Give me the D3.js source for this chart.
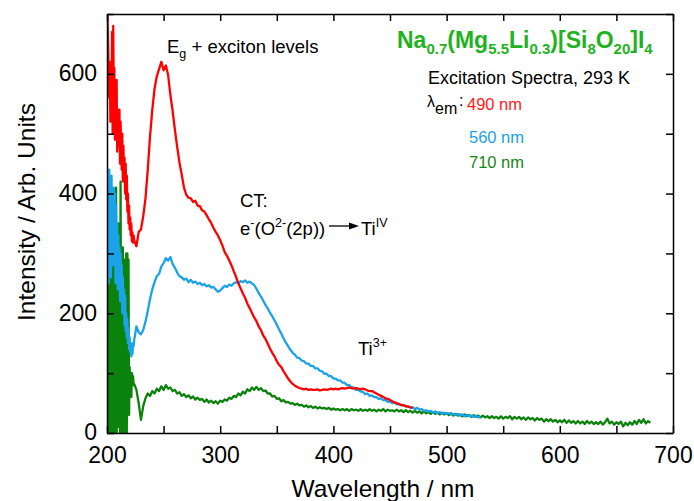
<!DOCTYPE html>
<html>
<head>
<meta charset="utf-8">
<script src="https://cdn.jsdelivr.net/npm/d3@7"></script>
<style>
  body { margin: 0; background: #fff; }
  svg { display: block; }
  text { font-family: "Liberation Sans", Arial, sans-serif; fill: #000; }
</style>
</head>
<body>
<svg id="chart" width="694" height="501"></svg>
<script>
// Excitation spectra of Na0.7(Mg5.5Li0.3)[Si8O20]I4 at 293 K for three emission wavelengths.
// Each series: a dense start (0.5 nm steps, 200-224 nm) and a tail (2 nm steps from 226 nm).
const HEAD_START = 200, HEAD_STEP = 0.5;
const TAIL_START = 226, TAIL_STEP = 2;

// lambda_em = 490 nm
const red490Head = [730,690,650,600,560,620,520,600,540,670,500,680,560,610,490,560,520,590,470,540,500,480,540,450,520,470,440,500,420,480,430,460,400,450,390,430,370,400,350,380,340,360,330,350,320,335,318,330,322];
const red490Tail = [
  312,336,340,362,392,440,495,540,575,596,
  608,620,606,614,598,565,538,506,478,452,
  432,410,398,393,392,386,388,380,379,372,
  370,364,357,351,343,336,330,322,313,302,
  296,288,280,270,261,250,242,233,226,216,
  209,201,193,187,178,172,163,157,149,141,
  134,128,120,114,110,103,97,91,86,82,
  79,77,75,74,73,74,72,73,72,72,
  73,71,72,73,72,73,74,73,74,73,
  74,75,74,75,76,75,74,75,74,73,
  74,73,71,70,70,68,66,64,62,60,
  58,57,55,53,51,50,48,47,46,45,
  44,43,42];

// lambda_em = 560 nm
const blue560Head = [420,300,380,250,440,320,400,260,430,340,390,280,410,300,400,250,380,290,350,240,330,260,310,220,300,240,280,200,260,210,240,180,230,170,200,160,190,150,175,140,160,135,150,128,140,132,150,145,155];
const blue560Tail = [
  178,168,165,172,186,204,224,240,252,262,
  266,278,284,292,288,294,282,276,268,262,
  260,256,258,252,256,251,253,249,251,247,
  249,245,247,243,244,240,236,238,242,246,
  244,248,246,250,252,250,254,252,255,251,
  253,250,247,241,234,228,221,214,208,201,
  195,188,181,173,166,158,151,145,139,134,
  131,126,125,121,120,116,116,112,112,108,
  108,104,103,99,99,95,95,91,91,88,
  88,84,84,80,80,76,76,72,72,69,
  69,65,66,62,63,60,60,57,58,55,
  55,52,53,50,51,48,49,46,47,44,
  45,42,43,40,42,39,40,37,38,36,
  37,34,36,33,35,32,34,32,33,31,
  32,30,32,29,31,28,30,28,29,27,
  29,26,27];

// lambda_em = 710 nm
const green710Head = [20,380,-30,300,420,-20,250,60,400,-40,330,100,360,-10,280,30,410,-30,230,90,350,10,300,-20,420,40,260,-30,310,70,200,-10,290,50,300,0,300,60,290,30,110,80,100,60,100,85,95,80,82];
const green710Tail = [
  72,50,22,45,58,66,62,70,66,74,
  70,78,72,80,74,76,70,72,66,68,
  62,65,60,63,58,61,56,59,55,57,
  52,56,51,54,50,53,49,54,52,56,
  54,59,57,62,60,66,63,69,66,73,
  70,76,72,77,72,75,70,71,66,66,
  61,62,57,58,53,55,51,52,49,50,
  47,49,46,47,44,46,43,45,42,44,
  41,43,41,42,40,42,39,41,39,40,
  38,40,38,40,37,40,38,39,37,40,
  37,39,37,40,37,39,36,39,37,40,
  36,39,37,38,36,39,36,38,35,38,
  35,37,34,37,34,36,33,36,33,35,
  32,35,32,34,31,34,31,33,30,33,
  29,32,29,31,28,31,28,30,27,30,
  27,29,26,29,26,28,25,28,25,27,
  24,28,24,27,25,28,23,27,24,27,
  23,26,22,26,23,25,21,25,22,24,
  19,23,20,23,19,22,18,21,18,22,
  17,21,17,20,16,20,16,19,15,20,
  16,19,15,18,15,19,14,18,24,16,
  19,14,18,15,19,11,17,13,18,14,
  20,15,22,17,23,16,20,17];

const xTicks = [200, 300, 400, 500, 600, 700];
const xMinorTicks = [200, 250, 300, 350, 400, 450, 500, 550, 600, 650, 700];
const yTicks = [0, 200, 400, 600];
const yMinorTicks = [0, 100, 200, 300, 400, 500, 600, 700];

const seriesDefs = [
  { name: "490 nm", head: red490Head, tail: red490Tail, color: "#ff0000", label: "#ff1a1a" },
  { name: "560 nm", head: blue560Head, tail: blue560Tail, color: "#1aa3e8", label: "#1aa3e8" },
  { name: "710 nm", head: green710Head, tail: green710Tail, color: "#0b820b", label: "#178717" }
];

function toPoints(def) {
  const pts = def.head.map((v, i) => [HEAD_START + i * HEAD_STEP, v]);
  def.tail.forEach((v, i) => pts.push([TAIL_START + i * TAIL_STEP, v]));
  return pts;
}

const svg = d3.select("#chart");
const plotLeft = 107, plotRight = 673, plotTop = 14, plotBottom = 433;

const x = d3.scaleLinear().domain([200, 700]).range([plotLeft, plotRight]);
const y = d3.scaleLinear().domain([0, 700]).range([plotBottom, plotTop]);

svg.append("defs").append("clipPath").attr("id", "plotClip")
  .append("rect").attr("x", plotLeft).attr("y", plotTop)
  .attr("width", plotRight - plotLeft).attr("height", plotBottom - plotTop);

// spectra (green drawn first, red last so red stays on top)
const line = d3.line().x(d => x(d[0])).y(d => y(d[1]));
const plot = svg.append("g").attr("clip-path", "url(#plotClip)");
[seriesDefs[2], seriesDefs[1], seriesDefs[0]].forEach(def => {
  plot.append("path")
    .datum(toPoints(def))
    .attr("fill", "none")
    .attr("stroke", def.color)
    .attr("stroke-width", 2.3)
    .attr("stroke-linejoin", "round")
    .attr("d", line);
});

// axes with inward ticks on all four sides
const tickLen = 7;
const fmtX = d => (xTicks.includes(d) ? d : "");
const fmtY = d => (yTicks.includes(d) ? d : "");

const gx = svg.append("g").attr("transform", `translate(0,${plotBottom})`)
  .call(d3.axisBottom(x).tickValues(xMinorTicks).tickSizeInner(-tickLen).tickSizeOuter(0).tickPadding(14).tickFormat(fmtX));
const gxt = svg.append("g").attr("transform", `translate(0,${plotTop})`)
  .call(d3.axisTop(x).tickValues(xMinorTicks).tickSizeInner(-tickLen).tickSizeOuter(0).tickFormat(""));
const gy = svg.append("g").attr("transform", `translate(${plotLeft},0)`)
  .call(d3.axisLeft(y).tickValues(yMinorTicks).tickSizeInner(-tickLen).tickSizeOuter(0).tickPadding(10).tickFormat(fmtY));
const gyr = svg.append("g").attr("transform", `translate(${plotRight},0)`)
  .call(d3.axisRight(y).tickValues(yMinorTicks).tickSizeInner(-tickLen).tickSizeOuter(0).tickFormat(""));

[gx, gxt, gy, gyr].forEach(g => {
  g.selectAll("path.domain").attr("stroke", "#000").attr("stroke-width", 1.5);
  g.selectAll(".tick line").attr("stroke", "#000").attr("stroke-width", 1.5);
  g.selectAll(".tick text").attr("fill", "#000")
    .style("font-family", '"Liberation Sans", Arial, sans-serif').style("font-size", "23px");
});
gy.selectAll(".tick text").attr("dy", "0.3em");

// axis titles
svg.append("text")
  .attr("x", (plotLeft + plotRight) / 2 - 7).attr("y", 497)
  .attr("text-anchor", "middle").style("font-size", "24.5px")
  .text("Wavelength / nm");
svg.append("text")
  .attr("transform", "translate(35,212) rotate(-90)")
  .attr("text-anchor", "middle").style("font-size", "24.5px")
  .text("Intensity / Arb. Units");

// text with sub/superscripts: parts = [[text, "n"|"sub"|"sup"], ...]
function richText(xPos, yPos, parts, size, subSize, color, weight) {
  const t = svg.append("text").attr("x", xPos).attr("y", yPos)
    .style("font-size", size + "px").style("fill", color || "#000");
  if (weight) t.style("font-weight", weight);
  let shift = 0;
  parts.forEach(([s, kind]) => {
    const target = kind === "sub" ? subSize * 0.42 : kind === "sup" ? -size * 0.45 : 0;
    const ts = t.append("tspan").attr("dy", target - shift).text(s);
    if (kind !== "n") ts.style("font-size", subSize + "px");
    shift = target;
  });
  return t;
}

// compound formula
richText(397, 48, [["Na", "n"], ["0.7", "sub"], ["(Mg", "n"], ["5.5", "sub"], ["Li", "n"], ["0.3", "sub"],
  [")[Si", "n"], ["8", "sub"], ["O", "n"], ["20", "sub"], ["]I", "n"], ["4", "sub"]], 23, 15, "#1fb31f", "bold");

svg.append("text").attr("x", 428).attr("y", 84).style("font-size", "18px")
  .text("Excitation Spectra, 293 K");

richText(427, 107, [["λ", "n"], ["em", "sub"]], 16, 16, "#000");
svg.append("text").attr("x", 459).attr("y", 106).style("font-size", "16px").text(":");

const legendY = [110, 143, 168];
seriesDefs.forEach((def, i) => {
  svg.append("text").attr("x", i === 0 ? 467 : 469).attr("y", legendY[i])
    .style("font-size", "16.5px").style("fill", def.label)
    .text(def.name);
});

// band annotations
richText(167, 53, [["E", "n"], ["g", "sub"], [" + exciton levels", "n"]], 18.5, 12.5, "#000");

svg.append("text").attr("x", 240).attr("y", 207).style("font-size", "18.5px").text("CT:");
richText(240, 235, [["e", "n"], ["-", "sup"], ["(O", "n"], ["2-", "sup"], ["(2p))", "n"]], 18.5, 12.5, "#000");

// charge-transfer arrow
const arrowY = 226;
svg.append("line").attr("x1", 329).attr("y1", arrowY).attr("x2", 352).attr("y2", arrowY)
  .attr("stroke", "#000").attr("stroke-width", 1.3);
svg.append("path")
  .attr("d", d3.line()([[349, arrowY - 3.5], [359, arrowY], [349, arrowY + 3.5]]) + "Z")
  .attr("fill", "#000");
richText(361, 235, [["Ti", "n"], ["IV", "sup"]], 18.5, 12.5, "#000");

richText(358, 355, [["Ti", "n"], ["3+", "sup"]], 18.5, 12.5, "#000");
</script>
</body>
</html>
